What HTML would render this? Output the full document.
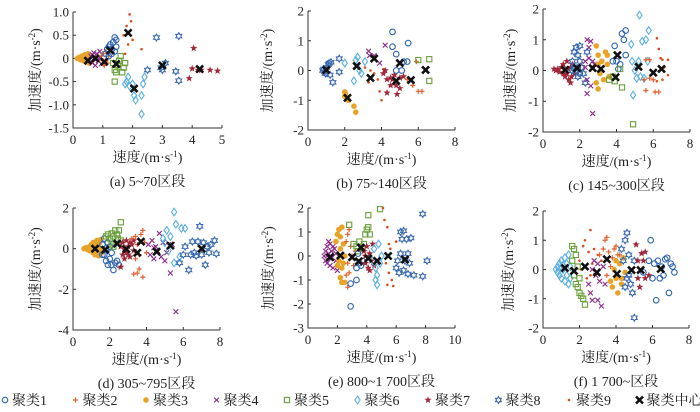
<!DOCTYPE html>
<html><head><meta charset="utf-8">
<style>
body{margin:0;background:#fff;}
svg text{font-family:"Liberation Serif","Noto Serif CJK SC",serif;fill:#222;}
</style></head>
<body>
<svg id="chart" width="700" height="407" viewBox="0 0 700 407" xmlns="http://www.w3.org/2000/svg"></svg>
<script>
// ---------- data ----------
const a_c3=[[0.15,0],[0.2,0.02],[0.25,-0.03],[0.3,0.05],[0.35,-0.05],[0.4,0.08],[0.45,-0.08],[0.5,0.1],[0.55,-0.1],[0.3,0],[0.4,0],[0.5,0]];
const a_c4=[[0.6,0.05],[0.65,-0.1],[0.7,0.12],[0.75,-0.15],[0.8,0.1],[0.85,-0.05],[0.9,0.15],[0.95,-0.12],[0.7,0],[0.8,0],[0.9,0.02],[0.65,0.08]];
const a_c2=[[1.0,0.1],[1.05,-0.15],[1.1,0.15],[1.15,-0.1],[1.2,0.05],[1.0,-0.05],[0.95,0.05],[1.1,-0.05]];
const a_c9=[[1.7,0.5],[1.8,0.7],[1.9,0.95],[1.95,0.8],[1.85,0.3],[1.75,0.1],[2.3,0.2],[2.0,0.4]];
const a_c1=[[1.1,0.1],[1.15,0.2],[1.2,0.25],[1.25,0.3],[1.3,0.2],[1.35,0.35],[1.4,0.45],[1.45,0.4],[1.3,0.1],[1.4,0.15],[1.45,0.25],[1.2,0.05]];
const a_c5=[[1.35,-0.1],[1.4,-0.25],[1.45,-0.3],[1.5,-0.15],[1.55,-0.05],[1.6,0.05],[1.65,-0.3],[1.7,-0.2],[1.4,-0.5],[1.75,-0.1]];
const a_c6=[[1.8,-0.5],[1.85,-0.4],[1.9,-0.6],[2.0,-0.55],[2.05,-0.8],[2.1,-0.9],[2.3,-0.8],[2.3,-1.2],[2.35,-0.55],[2.4,-0.4],[1.75,-0.55]];
const a_c8=[[2.5,-0.25],[2.8,0.45],[2.95,-0.2],[3.0,-0.25],[3.1,-0.1],[3.45,-0.28],[3.55,-0.48],[3.55,0.48]];
const a_c7=[[3.9,-0.43],[4.0,-0.22],[4.05,0.22],[4.2,-0.25],[4.3,-0.25],[4.6,-0.25],[4.85,-0.27]];
const a_cen=[[0.5,-0.05],[0.75,0],[1.05,-0.07],[1.25,0.17],[1.45,-0.12],[1.85,0.55],[2.05,-0.65],[3.0,-0.15],[4.25,-0.23]];

const b_c8=[[0.8,0],[0.85,0.05],[0.9,-0.05],[1.0,0.1],[1.1,0.2],[1.15,0.25],[1.2,-0.15],[1.25,0.28],[1.35,-0.4],[1.7,0.4],[1.7,-0.05],[0.95,-0.1]];
const b_c3=[[2.0,-0.72],[2.05,-0.8],[2.0,-0.87],[2.5,-1.2],[2.6,-1.4],[2.2,-1.0]];
const b_c6=[[2.0,0.25],[2.5,-0.35],[2.6,0.35],[2.7,0.45],[2.8,0.0],[2.9,-0.1],[3.1,0.3]];
const b_c4=[[3.3,0.65],[3.35,0.5],[3.6,0.5],[3.9,0.25],[4.2,0.85]];
const b_c9=[[3.1,0.1],[3.3,-0.4],[3.4,0.0],[3.6,-0.1],[3.8,-0.3],[3.9,-0.7],[4.0,-1.0],[4.1,0.05],[3.5,-0.2]];
const b_c7=[[4.1,-0.1],[4.2,0.0],[4.3,-0.3],[4.3,-0.75],[4.5,-0.25],[4.5,-0.5],[4.6,-0.3],[4.7,-0.15],[4.8,-0.5],[4.85,-0.8],[5.0,-0.25],[5.0,-0.6],[5.2,-0.2]];
const b_c1=[[4.6,1.3],[4.6,0.8],[4.8,0.55],[4.8,0.0],[5.1,0.0],[5.2,0.3],[5.4,0.3],[5.45,0.92]];
const b_c2=[[5.4,-0.3],[5.7,-0.5],[5.9,0.3],[6.0,-0.7],[6.2,-0.7]];
const b_c5=[[6.0,0.35],[6.6,0.38],[6.6,-0.35]];
const b_cen=[[1.0,0.02],[2.15,-0.92],[2.65,0.15],[3.4,-0.25],[3.6,0.4],[4.8,-0.35],[5.0,0.25],[5.6,-0.32],[6.4,0.02]];

const c_c7=[[0.6,0.05],[0.7,0],[0.8,0.05],[0.9,-0.05],[1.0,0.1],[1.1,0.2],[1.2,-0.2],[1.3,0.3],[1.4,-0.3],[1.5,0.1],[1.5,-0.4],[1.6,0.2],[1.7,-0.1],[1.3,-0.1],[1.2,0.05],[1.1,-0.1],[1.4,0.05],[1.55,-0.2]];
const c_c8=[[1.6,0.3],[1.7,0.6],[1.8,0.75],[1.9,0.5],[2.0,0.3],[2.1,0.1],[2.2,-0.1],[2.3,-0.4],[2.0,0.8],[1.9,-0.2],[2.4,0.6],[1.7,0.1]];
const c_c1=[[1.6,0],[1.7,0.05],[1.8,-0.05],[1.9,0.1],[2.0,-0.1],[3.9,0.8],[4.0,0.3],[4.2,0.2],[4.3,1.2],[4.5,1.3],[4.4,1.0],[4.5,0.5],[3.8,0.3],[4.1,0.05]];
const c_c4=[[2.3,0.3],[2.4,1.0],[2.5,0.75],[2.6,0.95],[2.5,0.4],[2.4,-0.3],[2.4,-0.75],[2.6,-0.5],[2.7,-1.4],[2.8,0.2],[2.3,0.1],[2.7,0.3]];
const c_c3=[[2.9,0.8],[3.0,0.5],[3.0,0.2],[3.1,-0.1],[3.2,0.3],[3.3,-0.3],[3.4,0.6],[3.5,0.2],[3.6,-0.2],[2.9,-0.4],[3.0,-0.6],[3.5,0.5]];
const c_c5=[[3.6,-0.3],[3.8,-0.2],[3.9,-0.35],[4.2,0.05],[4.3,-0.55],[4.9,-1.75]];
const c_c6=[[4.8,0.85],[4.85,0.3],[4.9,-0.8],[5.0,0.0],[5.1,-0.25],[5.2,0.3],[5.25,1.8],[5.4,0.95],[5.5,-0.25],[5.6,1.0],[5.7,0.3],[5.75,1.3],[5.3,-0.2]];
const c_c2=[[5.6,0.35],[5.8,0.35],[5.5,-0.3],[5.8,-0.25],[6.0,-0.3],[5.6,-0.65],[6.1,-0.7],[6.3,-0.7]];
const c_c9=[[6.2,1.05],[6.3,0.7],[6.4,0.4],[6.5,0.35],[6.6,0.1],[6.8,0.35],[6.8,-0.15],[6.2,-0.35],[6.5,-0.3]];
const c_cen=[[1.2,0.02],[1.85,0.08],[2.7,0.08],[3.15,0.05],[3.95,-0.22],[4.05,0.5],[5.2,0.12],[6.0,-0.07],[6.45,0.05]];

const d_c3=[[0.6,0],[0.7,0.05],[0.8,-0.05],[0.9,0.1],[1.0,-0.1],[1.0,0.2],[1.1,-0.2],[1.1,0.3],[1.2,0.1],[1.2,-0.3],[1.3,0.4],[1.3,-0.1],[1.4,0.2],[1.4,-0.35],[1.5,0.45],[1.5,0],[1.55,-0.2],[1.45,0.3],[0.9,-0.1],[1.2,0.25]];
const d_c1=[[1.6,0.2],[1.7,0.5],[1.7,-0.3],[1.8,-0.6],[1.9,0.3],[1.9,-0.8],[2.0,-0.5],[2.1,-0.8],[2.2,-1.05],[2.3,-0.7],[2.4,-0.6],[1.8,0],[2.0,0.1],[2.1,-0.2],[1.6,-0.3],[2.5,-0.8]];
const d_c5=[[1.8,0.6],[1.9,0.7],[2.0,0.5],[2.1,0.2],[2.2,0.6],[2.3,0.9],[2.4,0.7],[2.5,0.9],[2.6,1.3],[2.6,0.4],[2.2,0.1],[2.45,0.5],[2.1,0.75]];
const d_c7=[[2.6,0.1],[2.7,-0.3],[2.7,0.3],[2.8,-0.5],[2.9,0.4],[2.9,-0.2],[3.0,0.1],[3.1,-0.4],[3.2,0.2],[3.3,-0.1],[3.1,0.3],[2.6,-0.9],[2.8,0],[3.0,-0.3],[3.3,0.4]];
const d_c2=[[3.2,0.5],[3.4,0.6],[3.5,0.2],[3.6,-0.3],[3.7,0.7],[3.8,0.9],[3.9,0.3],[3.6,-1.0],[3.5,-1.2],[3.3,-1.25],[3.8,-1.4],[4.0,-0.2],[3.4,-0.5]];
const d_c4=[[4.1,0.2],[4.2,-0.3],[4.3,0.4],[4.4,-0.5],[4.5,0.1],[4.6,-0.1],[4.7,0.75],[4.8,-0.4],[4.9,0.3],[5.0,-0.6],[5.1,-0.2],[5.3,-1.2],[5.4,0.2],[5.6,-3.1],[4.4,0.05]];
const d_c6=[[4.9,0.5],[5.0,0.3],[5.1,0.9],[5.3,0.6],[5.5,1.8],[5.6,1.2],[5.8,-0.4],[5.9,1.0],[6.1,1.0],[5.5,-0.7],[5.2,-0.1]];
const d_c8=[[5.8,-0.7],[6.0,-0.3],[6.1,0.1],[6.3,-1.05],[6.4,-0.3],[6.5,0.35],[6.6,-0.2],[6.8,0.35],[6.9,1.1],[7.0,-0.3],[7.1,0.3],[7.2,-0.8],[7.3,0.1],[7.5,0.2],[7.7,0.4],[7.8,-0.25],[6.7,-0.35],[7.4,-0.2]];
const d_cen=[[1.2,0],[1.75,-0.05],[2.4,0.25],[2.9,-0.02],[3.5,-0.2],[3.7,0.35],[4.55,-0.15],[5.3,0.15],[7.0,0.0]];

const e_c4=[[1.1,0],[1.2,0.2],[1.2,-0.2],[1.3,0.4],[1.3,-0.3],[1.4,0.1],[1.5,0.5],[1.5,-0.4],[1.6,0.2],[1.7,-0.5],[1.8,0.3],[1.9,-0.2],[1.6,-0.1],[1.4,0.6],[1.9,0.1],[2.0,-0.6],[1.7,0.4],[1.3,0]];
const e_c3=[[1.9,0.6],[2.0,0.9],[2.1,1.1],[2.2,0.8],[2.3,1.2],[2.2,0.3],[2.1,-0.2],[2.3,-0.5],[2.2,-0.9],[2.3,-1.1],[2.5,-1.1],[2.4,0.5],[2.5,0.0],[2.0,-0.4],[2.4,-0.3]];
const e_c2=[[2.6,0.6],[2.7,0.9],[2.8,1.1],[2.9,0.4],[3.0,0.0],[2.7,-0.3],[2.8,-0.7],[2.7,-1.3],[3.1,-0.4],[3.2,0.2],[2.6,-0.8]];
const e_c5=[[2.8,1.3],[3.1,0.5],[3.3,0.4],[3.5,0.6],[3.7,0.3],[3.9,0.9],[4.0,1.1],[4.1,1.2],[4.2,0.9],[4.1,1.7],[4.9,1.95],[3.4,0.2],[3.8,0.5]];
const e_c1=[[2.9,-1.15],[2.9,-2.1],[3.3,-1.0],[3.3,-0.5],[3.5,-0.3],[3.6,-0.4],[3.7,-0.2],[3.4,0.1]];
const e_c7=[[3.8,0.2],[3.9,-0.3],[4.0,0.4],[4.1,-0.5],[4.2,0.1],[4.3,-0.2],[4.4,0.5],[4.5,-0.4],[3.9,0],[4.2,-0.6]];
const e_c6=[[4.4,-0.2],[4.5,0.3],[4.6,-0.5],[4.7,-0.8],[4.7,-1.2],[4.8,0.5],[4.9,-0.3],[5.0,0.0],[4.6,-1.0]];
const e_c9=[[5.1,2.0],[5.2,1.5],[5.4,1.2],[5.5,0.5],[5.6,0.3],[5.3,-0.3],[5.5,-0.7],[5.7,-1.0],[5.8,-1.25],[5.4,-1.2],[6.0,0.6]];
const e_c8=[[6.0,-0.5],[6.1,-0.2],[6.2,-0.7],[6.3,1.0],[6.4,0.7],[6.5,1.05],[6.5,-0.6],[6.6,-0.2],[6.7,0.7],[6.8,0.1],[6.9,-0.3],[7.0,0.75],[7.2,-0.8],[7.8,1.75],[7.8,-0.85],[8.1,-0.2],[6.3,0.1],[6.8,-0.75]];
const e_cen=[[1.5,-0.05],[2.2,0.02],[3.0,-0.05],[3.6,0.35],[3.45,-0.22],[4.1,-0.1],[4.7,-0.2],[5.45,0.0],[6.6,-0.15]];

const f_c6=[[0.7,0],[0.8,0.1],[0.8,-0.1],[0.9,0.2],[0.9,-0.2],[1.0,0.3],[1.0,-0.3],[1.1,0],[1.2,0.4],[1.2,-0.4],[1.3,0.2],[1.3,-0.2],[1.4,0.5],[1.4,-0.5],[1.5,0.1],[1.5,-0.3],[1.1,0.15],[1.0,0.05]];
const f_c5=[[1.6,0.8],[1.7,0.7],[1.6,0.3],[1.8,0.5],[1.7,-0.2],[1.8,-0.5],[1.9,-0.6],[2.0,-0.8],[2.1,-0.9],[2.2,-1.0],[2.3,-1.2],[1.9,0.1],[2.0,-0.3]];
const f_c9=[[2.0,0.3],[2.2,0.8],[2.3,1.0],[2.5,0.6],[2.6,1.35],[2.7,0.2],[2.8,0.7],[3.0,0.5],[2.4,-0.3],[2.1,0.0],[3.2,0.3],[2.6,-0.2]];
const f_c4=[[2.5,-0.5],[2.6,-0.8],[2.7,-1.05],[2.8,0.3],[2.9,-0.2],[3.0,-1.05],[3.1,-0.4],[3.2,-1.25],[3.3,0.1],[3.4,-0.5],[2.7,0.0],[3.0,0.2]];
const f_c2=[[3.1,0.5],[3.3,0.7],[3.4,1.0],[3.5,1.1],[3.6,0.6],[3.8,0.4],[3.9,0.7],[4.0,0.8],[4.1,0.5],[3.5,-0.2],[3.7,0.1],[4.2,0.5]];
const f_c3=[[3.7,-0.4],[3.8,-0.6],[3.9,0.0],[4.0,-0.3],[4.1,-0.8],[4.2,0.2],[4.3,-0.5],[4.4,0.4],[4.5,-0.1],[4.0,0.3],[4.3,-0.3]];
const f_c8=[[4.3,0.7],[4.4,0.3],[4.5,1.0],[4.6,1.25],[4.7,0.5],[4.7,-0.2],[4.8,-0.5],[4.9,-0.8],[5.0,0.3],[5.0,-1.65],[4.5,-0.6],[4.6,-0.3]];
const f_c7=[[5.1,0.85],[5.2,0.3],[5.3,-0.6],[5.4,0.55],[5.5,0.3],[5.6,0.6],[5.6,-0.3],[5.8,-0.2],[5.2,-0.3]];
const f_c1=[[5.5,-0.1],[5.8,0.3],[5.9,1.0],[6.0,-0.3],[6.1,0.2],[6.2,-1.05],[6.3,0.3],[6.5,0.1],[6.6,-0.2],[6.7,0.35],[6.9,-0.8],[7.0,0.2],[7.1,0.1],[7.2,-0.1],[6.4,-0.3],[6.8,0.4]];
const f_cen=[[1.2,0.05],[1.7,-0.05],[2.3,0.1],[2.95,-0.1],[3.5,0.35],[4.05,-0.15],[4.85,-0.02],[5.35,-0.02],[6.45,0.02]];

const a_yticks=[1.0,0.5,0,-0.5,-1.0,-1.5], a_ylabels=["1.0","0.5","0","-0.5","-1.0","-1.5"], a_xticks=[0,1,2,3,4,5];
const b_yticks=[2,1,0,-1,-2], b_xticks=[0,2,4,6,8];
const c_yticks=[2,1,0,-1,-2], c_xticks=[0,2,4,6,8];
const d_yticks=[2,0,-2,-4], d_xticks=[0,2,4,6,8];
const e_yticks=[2,1,0,-1,-2,-3], e_xticks=[0,2,4,6,8,10];
const f_yticks=[2,1,0,-1,-2], f_xticks=[0,2,4,6,8];
const captions=["(a) 5~70区段","(b) 75~140区段","(c) 145~300区段","(d) 305~795区段","(e) 800~1 700区段","(f) 1 700~区段"];
const legendNames=["聚类1","聚类2","聚类3","聚类4","聚类5","聚类6","聚类7","聚类8","聚类9","聚类中心"];

// ---------- drawing ----------
const NS="http://www.w3.org/2000/svg";
const svg=document.getElementById('chart');
const COL={c1:"#2e64b0",c2:"#e0602e",c3:"#e8a428",c4:"#8a2a8a",c5:"#6aa03a",c6:"#5ab0e0",c7:"#a0283a",c8:"#3a6ab0",c9:"#d05020",cen:"#111"};
function mk(tag,attrs,parent){const e=document.createElementNS(NS,tag);for(const k in attrs)e.setAttribute(k,attrs[k]);(parent||svg).appendChild(e);return e;}
function starPts(x,y,R,r,n,rot){let p=[];for(let i=0;i<2*n;i++){const a=rot+i*Math.PI/n;const rr=i%2?r:R;p.push((x+rr*Math.sin(a)).toFixed(1)+","+(y-rr*Math.cos(a)).toFixed(1));}return p.join(" ");}
function marker(g,type,x,y){
  const c=COL[type];let e;
  if(type==="c1"){e=mk('circle',{cx:x,cy:y,r:2.8,fill:"none",stroke:c,"stroke-width":1.1},g);}
  else if(type==="c2"){e=mk('path',{d:`M${x-2.5},${y}H${x+2.5}M${x},${y-2.5}V${y+2.5}`,stroke:c,"stroke-width":1.2},g);}
  else if(type==="c3"){e=mk('circle',{cx:x,cy:y,r:2.8,fill:c},g);}
  else if(type==="c4"){e=mk('path',{d:`M${x-2.4},${y-2.4}L${x+2.4},${y+2.4}M${x-2.4},${y+2.4}L${x+2.4},${y-2.4}`,stroke:c,"stroke-width":1.1},g);}
  else if(type==="c5"){e=mk('rect',{x:x-2.6,y:y-2.6,width:5.2,height:5.2,fill:"none",stroke:c,"stroke-width":1.1},g);}
  else if(type==="c6"){e=mk('polygon',{points:`${x},${y-3.8} ${x+2.6},${y} ${x},${y+3.8} ${x-2.6},${y}`,fill:"none",stroke:c,"stroke-width":1.1},g);}
  else if(type==="c7"){e=mk('polygon',{points:starPts(x,y,3.8,1.6,5,0),fill:c},g);}
  else if(type==="c8"){e=mk('polygon',{points:starPts(x,y,3.4,2.0,6,0),fill:"none",stroke:c,"stroke-width":1.1},g);}
  else if(type==="c9"){e=mk('circle',{cx:x,cy:y,r:1.3,fill:c},g);}
  else {e=mk('path',{d:`M${x-3.5},${y-3.5}L${x+3.5},${y+3.5}M${x-3.5},${y+3.5}L${x+3.5},${y-3.5}`,stroke:c,"stroke-width":2.6},g);}
  
  
  return e;
}
function txt(g,x,y,s,attrs){const t=mk('text',Object.assign({x:x,y:y,"font-size":13},attrs||{}),g);t.textContent=s;return t;}

function panel(id,box,xr,yr,xticks,yticks,ylabels,series,ylx,capIdx){
  const g=mk('g',{});
  
  
  const sx=v=>box.x0+(v-xr[0])/(xr[1]-xr[0])*(box.x1-box.x0);
  const sy=v=>box.y1-(v-yr[0])/(yr[1]-yr[0])*(box.y1-box.y0);
  const ax=mk('path',{d:`M${box.x0},${box.y0}V${box.y1}H${box.x1}`,fill:"none",stroke:"#333","stroke-width":1},g);
  
  
  xticks.forEach(v=>{const X=sx(v);mk('line',{x1:X,x2:X,y1:box.y1,y2:box.y1-3,stroke:"#333"},g);
    const t=txt(g,X,box.y1+16,String(v),{"text-anchor":"middle"});
    
    });
  yticks.forEach((v,i)=>{const Y=sy(v);mk('line',{x1:box.x0,x2:box.x0+3,y1:Y,y2:Y,stroke:"#333"},g);
    const t=txt(g,box.x0-4,Y+4.5,ylabels?ylabels[i]:String(v),{"text-anchor":"end"});
    
    });
  const pg=mk('g',{},g);
  
  
  series.forEach(([type,arr])=>arr.forEach(p=>marker(pg,type,sx(p[0]),sy(p[1]))));
  const cy=(box.y0+box.y1)/2;
  const yl=txt(g,ylx,cy,"",{"text-anchor":"middle",transform:`rotate(-90 ${ylx} ${cy})`,"font-size":14});
  yl.innerHTML='加速度/(m·s<tspan dy="-5" font-size="9">-2</tspan><tspan dy="5">)</tspan>';
  
  
  const mx=(box.x0+box.x1)/2;
  const xl=txt(g,mx,box.y1+34,"",{"text-anchor":"middle","font-size":14});
  xl.innerHTML='速度/(m·s<tspan dy="-5" font-size="9">-1</tspan><tspan dy="5">)</tspan>';
  
  
  const cp=txt(g,mx,box.y1+58,captions[capIdx],{"text-anchor":"middle","font-size":14});
  
  
}
panel('a',{x0:73,x1:222,y0:12,y1:128},[0,5],[-1.5,1],a_xticks,a_yticks,a_ylabels,
 [["c3",a_c3],["c4",a_c4],["c2",a_c2],["c9",a_c9],["c1",a_c1],["c5",a_c5],["c6",a_c6],["c8",a_c8],["c7",a_c7],["cen",a_cen]],40,0);
panel('b',{x0:308,x1:455,y0:11,y1:130},[0,8],[-2,2],b_xticks,b_yticks,null,
 [["c8",b_c8],["c3",b_c3],["c6",b_c6],["c4",b_c4],["c9",b_c9],["c7",b_c7],["c1",b_c1],["c2",b_c2],["c5",b_c5],["cen",b_cen]],272,1);
panel('c',{x0:543,x1:690,y0:9,y1:132},[0,8],[-2,2],c_xticks,c_yticks,null,
 [["c7",c_c7],["c8",c_c8],["c1",c_c1],["c4",c_c4],["c3",c_c3],["c5",c_c5],["c6",c_c6],["c2",c_c2],["c9",c_c9],["cen",c_cen]],515,2);
panel('d',{x0:73,x1:220,y0:208,y1:330},[0,8],[-4,2],d_xticks,d_yticks,null,
 [["c3",d_c3],["c1",d_c1],["c5",d_c5],["c7",d_c7],["c2",d_c2],["c4",d_c4],["c6",d_c6],["c8",d_c8],["cen",d_cen]],40,3);
panel('e',{x0:308,x1:455,y0:208,y1:328},[0,10],[-3,2],e_xticks,e_yticks,null,
 [["c4",e_c4],["c3",e_c3],["c2",e_c2],["c5",e_c5],["c1",e_c1],["c7",e_c7],["c6",e_c6],["c9",e_c9],["c8",e_c8],["cen",e_cen]],273,4);
panel('f',{x0:543,x1:689,y0:211,y1:328},[0,8],[-2,2],f_xticks,f_yticks,null,
 [["c6",f_c6],["c5",f_c5],["c9",f_c9],["c4",f_c4],["c2",f_c2],["c3",f_c3],["c8",f_c8],["c7",f_c7],["c1",f_c1],["cen",f_cen]],513,5);

// legend
const lg=mk('g',{});


const ltypes=["c1","c2","c3","c4","c5","c6","c7","c8","c9","cen"];
legendNames.forEach((n,i)=>{
  const x=12+i*70.5, y=405;
  const eg=mk('g',{},lg);
  
  
  marker(eg,ltypes[i],x-7,y-5);
  txt(eg,x,y,n,{"font-size":14});
});
</script>
</body></html>
